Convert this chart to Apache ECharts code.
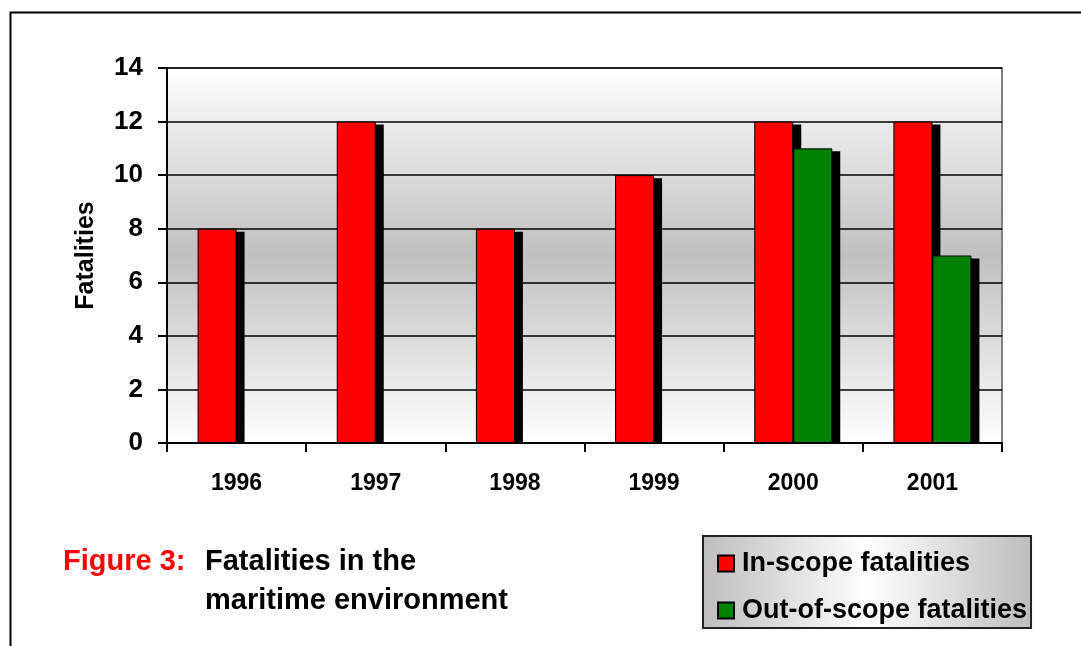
<!DOCTYPE html>
<html>
<head>
<meta charset="utf-8">
<script src="https://cdn.jsdelivr.net/npm/echarts@6/dist/echarts.min.js"></script>
<style>html,body{margin:0;padding:0;background:#fff}#c{width:1081px;height:646px}</style>
</head>
<body>
<div id="c"></div>
<script>
var categories = ['1996', '1997', '1998', '1999', '2000', '2001'];
var inScope = [8, 12, 8, 10, 12, 12];
var outScope = [0, 0, 0, 0, 11, 7];
var seriesNames = ['In-scope fatalities', 'Out-of-scope fatalities'];
var yTicks = [0, 2, 4, 6, 8, 10, 12, 14];

var FONT = 'Arial, "Liberation Sans", sans-serif';
var BAR_W = 39, SH_DX = 8, SH_DY = 3;

function shadowData(vals) { return vals.map(function (v, i) { return [i, v]; }); }
function shadowRender(side) {
  return function (params, api) {
    var v = api.value(1);
    if (!v) return null;
    var top = api.coord([api.value(0), v]);
    var base = api.coord([api.value(0), 0]);
    var x = top[0] + (side === 0 ? -BAR_W : 0) + SH_DX;
    return {
      type: 'rect',
      shape: { x: x, y: top[1] + SH_DY, width: BAR_W, height: base[1] - top[1] - SH_DY },
      style: { fill: '#000' }
    };
  };
}

var chart = echarts.init(document.getElementById('c'), null, { renderer: 'canvas' });
chart.setOption({
  animation: false,
  backgroundColor: '#fff',
  title: [
    { text: 'Figure 3:', left: 63, top: 543, padding: 0,
      textStyle: { color: '#ff0000', fontFamily: FONT, fontWeight: 'bold', fontSize: 29, lineHeight: 38.5 } },
    { text: 'Fatalities in the\nmaritime environment', left: 205, top: 543, padding: 0,
      textStyle: { color: '#000', fontFamily: FONT, fontWeight: 'bold', fontSize: 29, lineHeight: 38.5 } }
  ],
  graphic: [
    { type: 'rect', left: 8, top: 10, z: -1, silent: true,
      shape: { width: 1200, height: 800 }, style: { fill: 'none', stroke: '#000', lineWidth: 2 } }
  ],
  legend: {
    orient: 'vertical',
    left: 703, top: 536,
    data: seriesNames,
    padding: [14, 4, 4, 14],
    itemGap: 20,
    itemWidth: 16, itemHeight: 16,
    icon: 'rect',
    backgroundColor: new echarts.graphic.LinearGradient(0, 0, 1, 0, [
      { offset: 0, color: '#bdbdbd' }, { offset: 0.5, color: '#ffffff' }, { offset: 1, color: '#bdbdbd' }
    ]),
    borderColor: '#222', borderWidth: 2,
    textStyle: { color: '#000', fontFamily: FONT, fontWeight: 'bold', fontSize: 27, lineHeight: 26, padding: [0, 0, 0, 3] }
  },
  grid: {
    left: 167, top: 68, right: 79, bottom: 203,
    show: true,
    borderColor: '#808080', borderWidth: 2,
    backgroundColor: new echarts.graphic.LinearGradient(0, 0, 0, 1, [
      { offset: 0, color: '#ffffff' }, { offset: 0.5, color: '#c0c0c0' }, { offset: 1, color: '#ffffff' }
    ])
  },
  xAxis: {
    type: 'category',
    data: categories,
    boundaryGap: true,
    axisLine: { show: true, lineStyle: { color: '#000', width: 2 } },
    axisTick: { show: true, length: 9, alignWithLabel: false, lineStyle: { color: '#000', width: 2 } },
    axisLabel: { color: '#000', fontFamily: FONT, fontWeight: 'bold', fontSize: 23, margin: 29 },
    splitLine: { show: false }
  },
  yAxis: {
    type: 'value',
    min: yTicks[0], max: yTicks[yTicks.length - 1], interval: 2,
    name: 'Fatalities',
    nameLocation: 'middle',
    nameGap: 68,
    nameTextStyle: { color: '#000', fontFamily: FONT, fontWeight: 'bold', fontSize: 25 },
    axisLine: { show: true, lineStyle: { color: '#000', width: 2 } },
    axisTick: { show: true, length: 9, lineStyle: { color: '#000', width: 2 } },
    axisLabel: { color: '#000', fontFamily: FONT, fontWeight: 'bold', fontSize: 26, margin: 24 },
    splitLine: { show: true, lineStyle: { color: '#000', width: 1.5 } }
  },
  series: [
    { name: seriesNames[0], type: 'bar', data: inScope, barWidth: BAR_W, barGap: '0%', z: 3,
      itemStyle: { color: '#ff0000', borderColor: '#000', borderWidth: 1 } },
    { name: seriesNames[1], type: 'bar', data: outScope, barWidth: BAR_W, barGap: '0%', z: 3,
      itemStyle: { color: '#008000', borderColor: '#000', borderWidth: 1 } },
    { name: 'shadow-in', type: 'custom', z: 2, renderItem: shadowRender(0), data: shadowData(inScope), silent: true },
    { name: 'shadow-out', type: 'custom', z: 2, renderItem: shadowRender(1), data: shadowData(outScope), silent: true }
  ]
});
</script>
</body>
</html>
